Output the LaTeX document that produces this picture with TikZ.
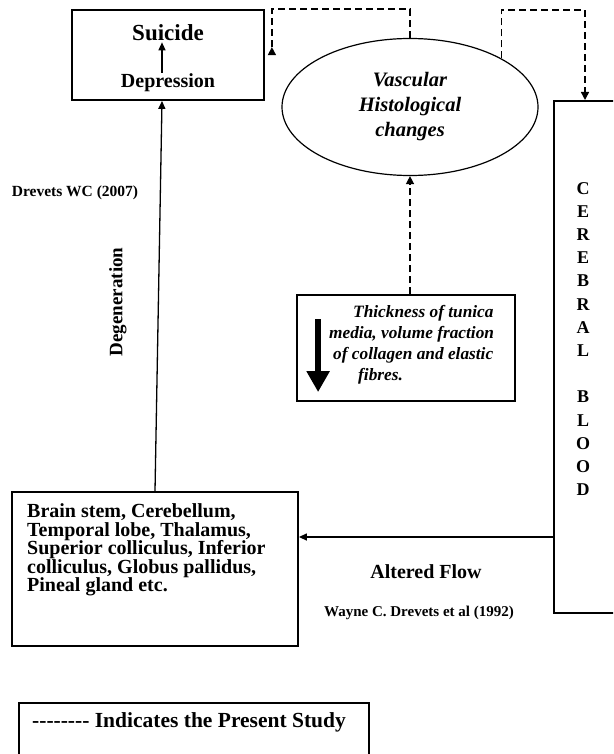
\documentclass[tikz,border=0pt]{standalone}
\usepackage{fontspec}
\setmainfont{Liberation Serif}
\usetikzlibrary{calc}
\usetikzlibrary{arrows.meta}
\usetikzlibrary{shapes.geometric}
\newcommand\fsz[2]{\fontsize{#1}{#2}\selectfont\bfseries}
\newcommand\dashrow{-\kern0pt-\kern0pt-\kern0pt-\kern0pt-\kern0pt-\kern0pt-\kern0pt-}

\tikzset{
  box/.style={draw, line width=1.8pt, inner sep=0pt},
  lbl/.style={inner sep=1pt, font=\fsz{20}{24}},
  arr/.style={line width=1.3pt, -{Triangle[width=7pt,length=8pt]}},
  dashline/.style={line width=1.4pt, dash pattern=on 7pt off 4pt},
}

\begin{document}
\begin{tikzpicture}[x=1pt,y=-1pt]
\useasboundingbox (0,0) rectangle (613,754);
\clip (0,0) rectangle (613,754);

% suicide box
\node[box, minimum width=192pt, minimum height=90pt] (suic) at (168,55) {};
\node[lbl, font=\fsz{23}{27}] (sui) at (168,33) {Suicide};
\node[lbl] (dep) at (168,83) {Depression};
\draw[arr] ($(dep.north)+(-6,0)$) -- ($(sui.south)+(-6,0)$);

% vascular changes
\node[box, ellipse, line width=1.2pt, minimum width=256pt, minimum height=137pt, align=center, font=\fsz{20.5}{25}\itshape] (vasc) at (410,107) {Vascular\\Histological\\changes};

% thickness box
\node[box, minimum width=218pt, minimum height=106pt] (thk) at (406,348) {};
\node[inner sep=0pt, anchor=west, align=left, font=\fsz{17.3}{21}\itshape] (thktxt) at (329,345) {\hspace{24pt}Thickness of tunica\\media, volume fraction\\\hspace{4pt}of collagen and elastic\\\hspace{29pt}fibres.};
\draw[line width=6pt, -{Triangle[width=22pt,length=21pt]}] ($(thk.north west)+(22,25)$) -- ($(thk.north west)+(22,98)$);

% cerebral blood
\node[box, minimum width=90pt, minimum height=512pt, anchor=north west] (cbl) at (553,100) {};
\node[inner sep=0pt, align=center, font=\fsz{18}{23.2}] (cbltxt) at (583,339) {C\\E\\R\\E\\B\\R\\A\\L\\[23.2pt]B\\L\\O\\O\\D};

% brain regions
\node[box, minimum width=286pt, minimum height=154pt] (brn) at (155,569) {};
\node[inner sep=0pt, anchor=west, align=left, font=\fsz{20}{18.5}] (brntxt) at (27,550) {Brain stem, Cerebellum,\\Temporal lobe, Thalamus,\\Superior colliculus, Inferior\\colliculus, Globus pallidus,\\Pineal gland etc.};

% labels
\node[lbl, font=\fsz{15.5}{18}] (drv) at (75,193) {Drevets WC (2007)};
\node[lbl, rotate=90, font=\fsz{19}{22}] (degen) at (118,302) {Degeneration};
\node[lbl] (alt) at (426,572) {Altered Flow};
\node[lbl, font=\fsz{15}{18}] (wcd) at (419,613) {Wayne C. Drevets et al (1992)};

% connectors
\coordinate (flow) at (0,537);
\draw[arr] (cbl.west |- flow) -- (brn.east |- flow);
\draw[arr] (brn.north) -- ($(suic.south)+(-6,0)$);

% present study
\draw[dashline, -{Triangle[reversed,width=8pt,length=8pt]}] (vasc.north) |- ($(suic.north east)+(7,0)$) -- ($(suic.north east)+(7,46)$);
\coordinate (rtop) at (585,10);
\draw[dashline, -{Triangle[width=8pt,length=8pt]}] (vasc.28.6) |- (rtop) -- (rtop |- cbl.north);
\draw[dashline, -{Triangle[width=8pt,length=8pt]}] (thk.north -| vasc.south) -- (vasc.south);

% legend
\node[box, minimum width=350pt, minimum height=80pt, anchor=north west] (lgd) at (18,702) {};
\node[inner sep=0pt, anchor=west, font=\fsz{21.5}{24}] (lgdtxt) at (32,722) {\dashrow{} Indicates the Present Study};
\end{tikzpicture}
\end{document}
